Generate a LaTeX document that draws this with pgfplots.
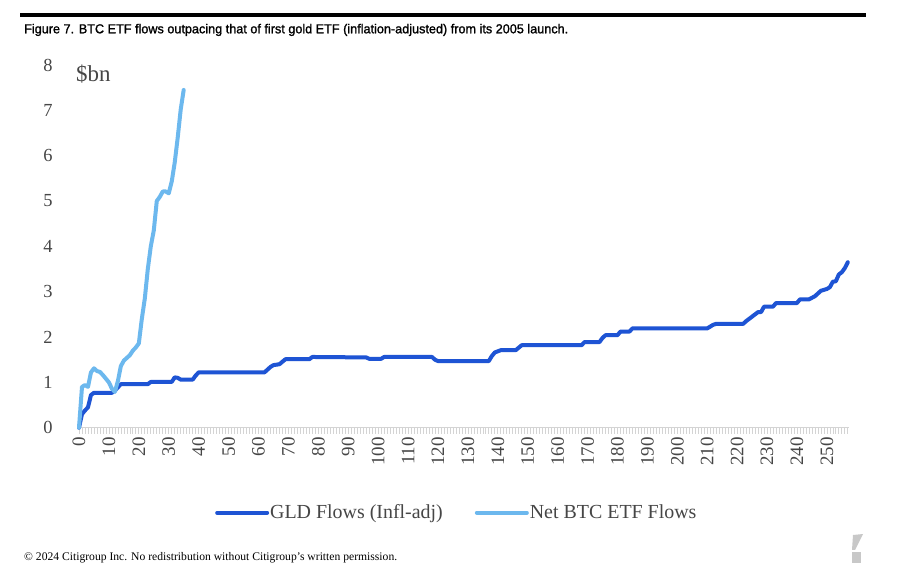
\documentclass[border=0pt]{standalone}
\usepackage{pgfplots}
\pgfplotsset{compat=1.18}
\usepackage{fontspec}
\setmainfont{Liberation Serif}
\newfontfamily\titlefont[FakeBold=1.3]{Liberation Sans}
\definecolor{gldblue}{RGB}{30,84,212}
\definecolor{btcblue}{RGB}{108,184,238}
\definecolor{labelgray}{RGB}{70,70,70}
\definecolor{axisgray}{RGB}{212,212,212}
\definecolor{logogray}{RGB}{200,200,200}

\begin{document}
\begin{tikzpicture}
\path[use as bounding box, fill=white] (0bp,0bp) rectangle (920bp,580bp);
% top rule and title
\draw[line width=4bp] (20bp,564.7bp) -- (866bp,564.7bp);
\node[anchor=base west, inner sep=0pt] at (24bp,546.7bp)
  {\resizebox{544bp}{9.4bp}{\titlefont\fontsize{12.6}{14}\selectfont Figure 7. BTC ETF flows outpacing that of first gold ETF (inflation-adjusted) from its 2005 launch.}};

\begin{axis}[
    at={(79bp,152.3bp)}, anchor=south west,
    scale only axis,
    width=770bp, height=362.7bp,
    xmin=0, xmax=257.4,
    ymin=0, ymax=8,
    clip=false,
    axis lines*=left,
    y axis line style={draw=none},
    x axis line style={draw=axisgray, line width=1.2bp},
    xtick={0,10,...,250},
    minor xtick={0,...,257},
    ytick={0,...,8},
    tick align=outside,
    major tick length=6bp,
    minor tick length=6bp,
    x tick style={draw=axisgray, line width=0.7bp},
    y tick style={draw=none},
    /pgf/number format/assume math mode=true,
    xticklabel style={rotate=90, anchor=east, text=labelgray,
        font=\fontsize{19}{19}\selectfont},
    yticklabel style={text=labelgray, xshift=-17bp,
        font=\fontsize{18.5}{18.5}\selectfont},
    legend columns=2,
    legend style={at={(0.1766,-0.2344)}, anchor=west,
        draw=none, fill=none, inner sep=0pt,
        font=\fontsize{20}{20}\selectfont, text=labelgray,
        nodes={inner sep=1bp},
        /tikz/every even column/.append style={column sep=31bp}},
    legend image code/.code={\draw[#1] (0bp,0bp) -- (50bp,0bp);},
]
% GLD flows, inflation adjusted ($bn)
\addplot[gldblue, line width=4bp, line join=round, line cap=round] coordinates {
(0,0) (1,0.30) (2,0.38) (3,0.45) (4,0.72) (5,0.77) (11,0.77) (12,0.82)
(14,0.96) (23,0.96) (24,1.01) (31,1.01) (32,1.11) (33,1.10) (34,1.06)
(38,1.06) (39,1.15) (40,1.22) (62,1.22) (64,1.34) (65,1.38) (67,1.40)
(69,1.51) (77,1.51) (78,1.56) (96,1.55) (97,1.52) (101,1.52) (102,1.56)
(118,1.56) (119,1.50) (120,1.47) (137,1.47) (138,1.58) (139,1.66)
(141,1.71) (146,1.71) (148,1.82) (168,1.82) (169,1.89) (174,1.89)
(175,1.98) (176,2.04) (180,2.04) (181,2.12) (184,2.12) (185,2.19)
(210,2.19) (212,2.27) (213,2.29) (222,2.29) (223,2.35) (224,2.40)
(226,2.50) (227,2.55) (228,2.55) (229,2.67) (232,2.67) (233,2.75)
(240,2.75) (241,2.83) (244,2.83) (246,2.90) (248,3.02) (250,3.06)
(251,3.10) (252,3.22) (253,3.23) (254,3.38) (255,3.43) (256,3.52)
(257,3.65)
};
\addlegendentry{GLD Flows (Infl-adj)}
% net BTC ETF flows ($bn)
\addplot[btcblue, line width=4bp, line join=round, line cap=round] coordinates {
(0,0) (1,0.90) (2,0.94) (3,0.90) (4,1.22) (5,1.31) (6,1.25) (7,1.23)
(8,1.16) (9,1.08) (10,1.00) (11,0.86) (12,0.79) (13,1.03) (14,1.36)
(15,1.48) (16,1.54) (17,1.60) (18,1.70) (19,1.77) (20,1.86) (21,2.40)
(22,2.85) (23,3.50) (24,4.00) (25,4.35) (26,5.00) (27,5.09) (28,5.21)
(29,5.21) (30,5.17) (31,5.43) (32,5.85) (33,6.40) (34,7.02) (35,7.45)
};
\addlegendentry{Net BTC ETF Flows}
\end{axis}

\node[anchor=base west, inner sep=0pt, text=labelgray,
  font=\fontsize{23}{23}\selectfont] at (76bp,498.3bp) {\$bn};

% footer
\node[anchor=base west, inner sep=0pt] at (24bp,20bp)
  {\resizebox{373bp}{!}{\fontsize{10.8}{12}\selectfont \textcopyright{} 2024 Citigroup Inc. No redistribution without Citigroup's written permission.}};
% logo mark
\fill[logogray] (853bp,45bp) -- (863bp,46bp) -- (855bp,30bp) -- (852bp,30bp) -- cycle;
\fill[logogray] (852bp,16.7bp) rectangle (861bp,28.3bp);
\end{tikzpicture}
\end{document}
